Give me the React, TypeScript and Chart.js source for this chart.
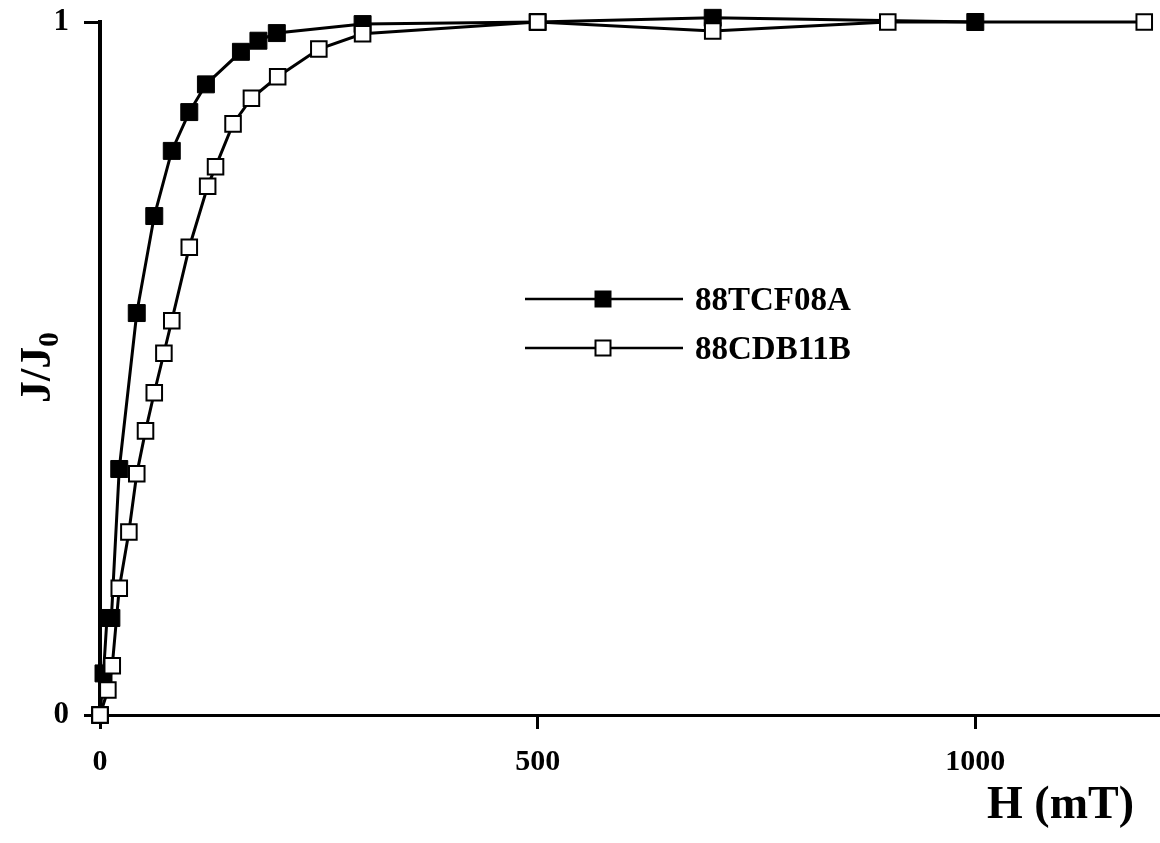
import React, { useEffect, useRef } from "react";
import { Chart, registerables } from "chart.js";

Chart.register(...registerables);

const seriesALabel = "88TCF08A";
const seriesAx = [0, 4, 8, 13, 22, 42, 62, 82, 102, 121, 161, 181, 202, 300, 500, 700, 1000];
const seriesAy = [0, 0.06, 0.14, 0.14, 0.355, 0.58, 0.72, 0.814, 0.87, 0.91, 0.957, 0.973, 0.984, 0.997, 1.0, 1.006, 1.0];

const seriesBLabel = "88CDB11B";
const seriesBx = [0, 9, 14, 22, 33, 42, 52, 62, 73, 82, 102, 123, 132, 152, 173, 203, 250, 300, 500, 700, 900, 1193];
const seriesBy = [0, 0.036, 0.071, 0.183, 0.264, 0.348, 0.41, 0.465, 0.522, 0.569, 0.675, 0.763, 0.791, 0.853, 0.89, 0.921, 0.961, 0.983, 1.0, 0.987, 1.0, 1.0];

const xTickValues = [0, 500, 1000];
const yTickValues = [0, 1];
const xTitle = "H (mT)";
const yTitleMain = "J/J";
const yTitleSub = "0";

const FONT = '"Liberation Serif", "Times New Roman", serif';

const toPoints = (xs: number[], ys: number[]) => xs.map((x, i) => ({ x, y: ys[i] }));

const decorPlugin = {
  id: "decor",
  afterDraw(chart: any) {
    const ctx = chart.ctx;
    ctx.save();
    ctx.fillStyle = "#000";
    // x axis title
    ctx.font = `bold 46px ${FONT}`;
    ctx.textAlign = "right";
    ctx.textBaseline = "alphabetic";
    ctx.fillText(xTitle, 1134, 818);
    // y axis title with subscript
    ctx.textAlign = "left";
    ctx.translate(50, 403);
    ctx.rotate(-Math.PI / 2);
    ctx.font = `bold 44px ${FONT}`;
    ctx.fillText(yTitleMain, 0, 0);
    const w = ctx.measureText(yTitleMain).width;
    ctx.font = `bold 29px ${FONT}`;
    ctx.fillText(yTitleSub, w, 8);
    ctx.restore();

    // legend
    ctx.save();
    const items = chart.data.datasets;
    const legendRows = [
      { ds: items.find((d: any) => d.label === seriesALabel), y: 299 },
      { ds: items.find((d: any) => d.label === seriesBLabel), y: 348 },
    ];
    legendRows.forEach(({ ds, y }: any) => {
      ctx.strokeStyle = "#000";
      ctx.lineWidth = 2.5;
      ctx.beginPath();
      ctx.moveTo(525, y);
      ctx.lineTo(683, y);
      ctx.stroke();
      const s = 15;
      ctx.fillStyle = ds.pointBackgroundColor;
      ctx.fillRect(603 - s / 2, y - s / 2, s, s);
      ctx.lineWidth = 2;
      ctx.strokeRect(603 - s / 2, y - s / 2, s, s);
      ctx.fillStyle = "#000";
      ctx.font = `bold 33px ${FONT}`;
      ctx.textAlign = "left";
      ctx.textBaseline = "middle";
      ctx.fillText(ds.label, 695, y + 2);
    });
    ctx.restore();
  },
};

export default function App() {
  const canvasRef = useRef<HTMLCanvasElement | null>(null);

  useEffect(() => {
    document.body.style.margin = "0";
    const canvas = canvasRef.current;
    if (!canvas) return;
    const chart = new Chart(canvas, {
      type: "line",
      data: {
        datasets: [
          {
            label: seriesALabel,
            data: toPoints(seriesAx, seriesAy),
            borderColor: "#000",
            borderWidth: 3,
            pointStyle: "rect",
            pointRadius: 12,
            pointBackgroundColor: "#000",
            pointBorderColor: "#000",
            pointBorderWidth: 1,
            tension: 0,
            clip: false,
            order: 2,
          } as any,
          {
            label: seriesBLabel,
            data: toPoints(seriesBx, seriesBy),
            borderColor: "#000",
            borderWidth: 3,
            pointStyle: "rect",
            pointRadius: 11,
            pointBackgroundColor: "#fff",
            pointBorderColor: "#000",
            pointBorderWidth: 2,
            tension: 0,
            clip: false,
            order: 1,
          } as any,
        ],
      },
      options: {
        responsive: false,
        animation: false,
        layout: { autoPadding: false, padding: { top: 22, left: 0, right: 0, bottom: 0 } },
        plugins: {
          legend: { display: false },
          tooltip: { enabled: false },
        },
        scales: {
          x: {
            type: "linear",
            min: 0,
            max: 1211,
            afterFit: (scale: any) => {
              scale.height = 128;
              scale.paddingLeft = 0;
              scale.paddingRight = 0;
            },
            afterBuildTicks: (scale: any) => {
              scale.ticks = xTickValues.map((v) => ({ value: v }));
            },
            ticks: {
              includeBounds: false,
              color: "#000",
              font: { family: FONT, size: 30, weight: "bold" },
              padding: 15,
              maxRotation: 0,
              callback: (v: any) => String(v),
            },
            grid: {
              display: true,
              drawOnChartArea: false,
              drawTicks: true,
              tickLength: 14,
              tickWidth: 3,
              tickColor: "#000",
            },
            border: { display: true, color: "#000", width: 3 },
          },
          y: {
            type: "linear",
            min: 0,
            max: 1,
            afterFit: (scale: any) => {
              scale.width = 100;
              scale.paddingTop = 0;
              scale.paddingBottom = 0;
            },
            afterBuildTicks: (scale: any) => {
              scale.ticks = yTickValues.map((v) => ({ value: v }));
            },
            ticks: {
              color: "#000",
              font: { family: FONT, size: 31, weight: "bold" },
              padding: 15,
              callback: (v: any) => String(v),
            },
            grid: {
              display: true,
              drawOnChartArea: false,
              drawTicks: true,
              tickLength: 16,
              tickWidth: 3,
              tickColor: "#000",
            },
            border: { display: true, color: "#000", width: 4 },
          },
        },
      },
      plugins: [decorPlugin],
    });
    return () => chart.destroy();
  }, []);

  return (
    <div style={{ width: 1160, height: 843 }}>
      <canvas ref={canvasRef} width={1160} height={843} style={{ display: "block" }} />
    </div>
  );
}
